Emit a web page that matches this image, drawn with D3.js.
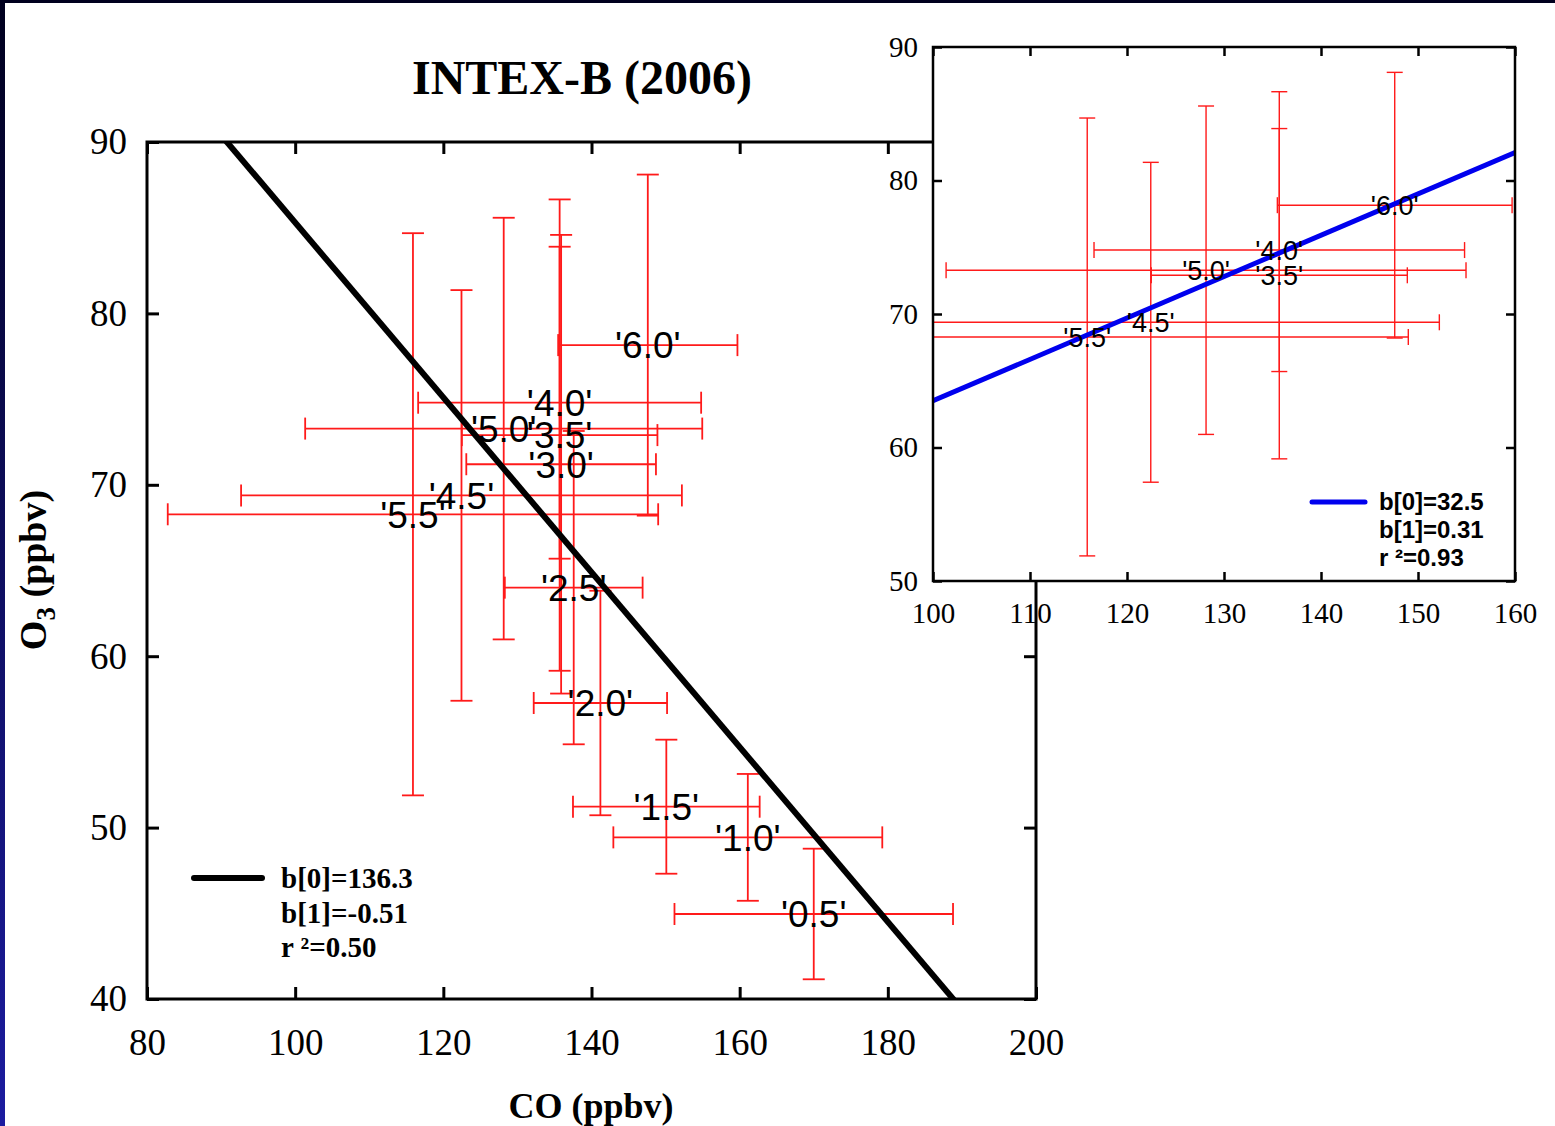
<!DOCTYPE html>
<html>
<head>
<meta charset="utf-8">
<script src="https://cdn.jsdelivr.net/npm/d3@7"></script>
<style>
  body { margin: 0; background: #fff; }
  svg { display: block; }
</style>
</head>
<body>
<svg id="chart" width="1555" height="1126"></svg>
<script>
// altitude bins (km) and binned means / std devs
const labels = ["'0.5'", "'1.0'", "'1.5'", "'2.0'", "'2.5'", "'3.0'", "'3.5'", "'4.0'", "'4.5'", "'5.0'", "'5.5'", "'6.0'"];
const co     = [170.0, 161.1, 150.1, 141.2, 137.6, 135.9, 135.7, 135.7, 122.45, 128.15, 115.9, 147.6];
const coErr  = [18.8, 18.15, 12.6, 9.0, 9.3, 12.8, 13.2, 19.1, 29.75, 26.8, 33.1, 12.1];
const o3     = [44.96, 49.43, 51.22, 57.27, 64.0, 71.2, 72.9, 74.79, 69.38, 73.28, 68.28, 78.15];
const o3Err  = [3.81, 3.7, 3.91, 6.55, 9.14, 13.38, 13.75, 9.1, 11.98, 12.3, 16.4, 9.95];

// points shown in the inset (upper levels)
const insetLabels = ["'3.5'", "'4.0'", "'4.5'", "'5.0'", "'5.5'", "'6.0'"];

// fits: O3 = b0 + b1 * CO
const fitAll   = { b0: 136.3, b1: -0.51, r2: "0.50" };
const fitUpper = { b0: 32.5, b1: 0.31, r2: "0.93" };

const mainXTicks = [80, 100, 120, 140, 160, 180, 200];
const mainYTicks = [40, 50, 60, 70, 80, 90];
const insetXTicks = [100, 110, 120, 130, 140, 150, 160];
const insetYTicks = [50, 60, 70, 80, 90];

const points = labels.map((l, i) => ({ label: l, x: co[i], xe: coErr[i], y: o3[i], ye: o3Err[i] }));

const serif = "'Liberation Serif', 'Times New Roman', serif";
const sans = "'Liberation Sans', Arial, sans-serif";

const svg = d3.select("#chart");

// dark slide border
const defs = svg.append("defs");
const grad = defs.append("linearGradient").attr("id", "edge")
    .attr("x1", 0).attr("y1", 0).attr("x2", 0).attr("y2", 1);
grad.append("stop").attr("offset", "0%").attr("stop-color", "#00001e");
grad.append("stop").attr("offset", "100%").attr("stop-color", "#1c1ca0");
svg.append("rect").attr("width", 1555).attr("height", 1126).attr("fill", "#fff");
svg.append("rect").attr("width", 5).attr("height", 1126).attr("fill", "url(#edge)");
svg.append("rect").attr("width", 1555).attr("height", 3).attr("fill", "#00001e");

function panel(opts) {
    const x = d3.scaleLinear().domain(opts.xDomain).range([opts.left, opts.right]);
    const y = d3.scaleLinear().domain(opts.yDomain).range([opts.bottom, opts.top]);
    const g = svg.append("g");

    g.append("rect")
        .attr("x", opts.left).attr("y", opts.top)
        .attr("width", opts.right - opts.left).attr("height", opts.bottom - opts.top)
        .attr("fill", "#fff");

    defs.append("clipPath").attr("id", opts.id)
        .append("rect")
        .attr("x", opts.left).attr("y", opts.top)
        .attr("width", opts.right - opts.left).attr("height", opts.bottom - opts.top);

    const plot = g.append("g").attr("clip-path", `url(#${opts.id})`);

    // error bars
    const bars = plot.selectAll("g.err").data(opts.data).enter().append("g")
        .attr("stroke", "#ff1a1a").attr("stroke-width", opts.errWidth).attr("fill", "none");
    const c = opts.cap / 2;
    bars.append("line")
        .attr("x1", d => x(d.x)).attr("x2", d => x(d.x))
        .attr("y1", d => y(d.y + d.ye)).attr("y2", d => y(d.y - d.ye));
    bars.append("line")
        .attr("x1", d => x(d.x - d.xe)).attr("x2", d => x(d.x + d.xe))
        .attr("y1", d => y(d.y)).attr("y2", d => y(d.y));
    [d => d.y + d.ye, d => d.y - d.ye].forEach(f => {
        bars.append("line")
            .attr("x1", d => x(d.x) - c).attr("x2", d => x(d.x) + c)
            .attr("y1", d => y(f(d))).attr("y2", d => y(f(d)));
    });
    [d => d.x - d.xe, d => d.x + d.xe].forEach(f => {
        bars.append("line")
            .attr("x1", d => x(f(d))).attr("x2", d => x(f(d)))
            .attr("y1", d => y(d.y) - c).attr("y2", d => y(d.y) + c);
    });

    // regression line
    const fx = opts.xDomain;
    plot.append("line")
        .attr("x1", x(fx[0])).attr("y1", y(opts.fit.b0 + opts.fit.b1 * fx[0]))
        .attr("x2", x(fx[1])).attr("y2", y(opts.fit.b0 + opts.fit.b1 * fx[1]))
        .attr("stroke", opts.fitColor).attr("stroke-width", opts.fitWidth);

    // point labels
    plot.selectAll("text.lab").data(opts.data).enter().append("text")
        .attr("x", d => x(d.x)).attr("y", d => y(d.y))
        .attr("dy", "0.36em")
        .attr("text-anchor", "middle")
        .attr("font-family", sans).attr("font-size", opts.labSize)
        .attr("fill", "#000")
        .text(d => d.label);

    // axes with inward ticks
    const tk = opts.tick;
    const axB = g.append("g").attr("transform", `translate(0,${opts.bottom})`)
        .call(d3.axisBottom(x).tickValues(opts.xTicks).tickSizeInner(-tk).tickSizeOuter(0).tickPadding(opts.xPad));
    const axL = g.append("g").attr("transform", `translate(${opts.left},0)`)
        .call(d3.axisLeft(y).tickValues(opts.yTicks).tickSizeInner(-tk).tickSizeOuter(0).tickPadding(opts.yPad));
    const axT = g.append("g").attr("transform", `translate(0,${opts.top})`)
        .call(d3.axisTop(x).tickValues(opts.xTicks).tickSizeInner(-tk).tickSizeOuter(0).tickFormat(""));
    const axR = g.append("g").attr("transform", `translate(${opts.right},0)`)
        .call(d3.axisRight(y).tickValues(opts.yTicks).tickSizeInner(-tk).tickSizeOuter(0).tickFormat(""));
    [axB, axL, axT, axR].forEach(a => {
        a.select(".domain").remove();
        a.selectAll("line").attr("stroke", "#000").attr("stroke-width", opts.frameWidth);
        a.selectAll("text").attr("font-family", serif).attr("font-size", opts.tickSize).attr("fill", "#000");
    });

    g.append("rect")
        .attr("x", opts.left).attr("y", opts.top)
        .attr("width", opts.right - opts.left).attr("height", opts.bottom - opts.top)
        .attr("fill", "none").attr("stroke", "#000").attr("stroke-width", opts.frameWidth);

    // legend
    const lg = opts.legend;
    g.append("line")
        .attr("x1", lg.x0).attr("x2", lg.x1).attr("y1", lg.y).attr("y2", lg.y)
        .attr("stroke", opts.fitColor).attr("stroke-width", opts.fitWidth).attr("stroke-linecap", "round");
    const rows = [`b[0]=${opts.fit.b0}`, `b[1]=${opts.fit.b1}`, `r \u00b2=${opts.fit.r2}`];
    g.selectAll("text.leg").data(rows).enter().append("text")
        .attr("x", lg.tx).attr("y", (d, i) => lg.y + i * lg.step)
        .attr("dy", "0.35em")
        .attr("font-family", lg.font).attr("font-weight", "bold").attr("font-size", lg.size)
        .attr("fill", "#000")
        .text(d => d);
    return { x, y, g };
}

const main = panel({
    id: "clipMain", data: points,
    xDomain: [80, 200], yDomain: [40, 90],
    left: 147, right: 1036, top: 142, bottom: 999,
    xTicks: mainXTicks, yTicks: mainYTicks,
    tick: 12, xPad: 30, yPad: 20, tickSize: 37, frameWidth: 3,
    errWidth: 1.8, cap: 22, labSize: 37,
    fit: fitAll, fitColor: "#000", fitWidth: 6,
    legend: { x0: 194, x1: 262, y: 878, tx: 281, step: 34.5, size: 29, font: serif }
});

// title and axis titles
svg.append("text")
    .attr("x", 582).attr("y", 94)
    .attr("text-anchor", "middle")
    .attr("font-family", serif).attr("font-weight", "bold").attr("font-size", 48)
    .text("INTEX-B (2006)");

svg.append("text")
    .attr("x", 591).attr("y", 1118)
    .attr("text-anchor", "middle")
    .attr("font-family", serif).attr("font-weight", "bold").attr("font-size", 36)
    .text("CO (ppbv)");

const yt = svg.append("text")
    .attr("transform", "translate(46,570) rotate(-90)")
    .attr("text-anchor", "middle")
    .attr("font-family", serif).attr("font-weight", "bold").attr("font-size", 38);
yt.append("tspan").text("O");
yt.append("tspan").attr("font-size", 27).attr("dy", 9).text("3");
yt.append("tspan").attr("dy", -9).text(" (ppbv)");

// inset with the upper levels
panel({
    id: "clipInset", data: points.filter(p => insetLabels.includes(p.label)),
    xDomain: [100, 160], yDomain: [50, 90],
    left: 933, right: 1515, top: 47, bottom: 581,
    xTicks: insetXTicks, yTicks: insetYTicks,
    tick: 9, xPad: 21, yPad: 15, tickSize: 29, frameWidth: 2.5,
    errWidth: 1.4, cap: 16, labSize: 27,
    fit: fitUpper, fitColor: "#0000ee", fitWidth: 5,
    legend: { x0: 1312, x1: 1365, y: 502, tx: 1379, step: 28, size: 24, font: sans }
});
</script>
</body>
</html>
